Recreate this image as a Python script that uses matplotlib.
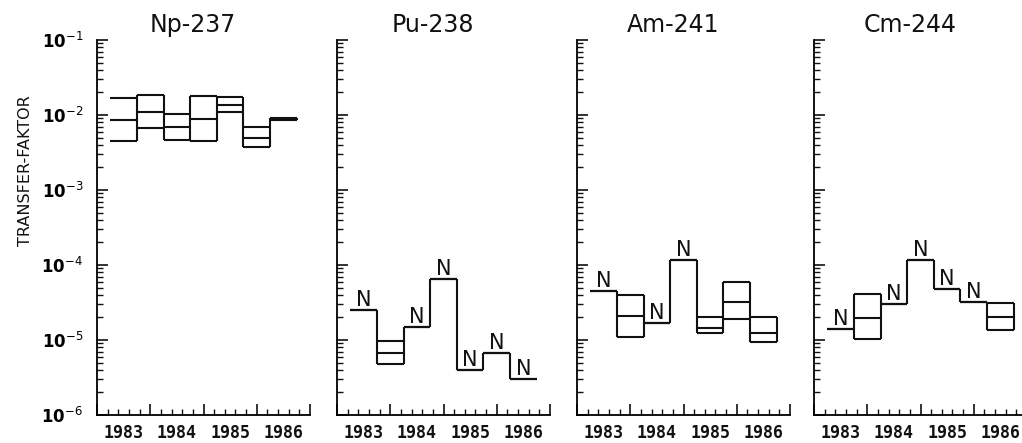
import numpy as np
import matplotlib.pyplot as plt
import matplotlib.transforms as mtransforms
from matplotlib.ticker import LogLocator, NullFormatter, MultipleLocator

plt.rcParams['font.family'] = 'DejaVu Sans'

# half-year sampling periods
edges = [1983.25, 1983.75, 1984.25, 1984.75, 1985.25, 1985.75, 1986.25, 1986.75]
years = ['1983', '1984', '1985', '1986']
nuclides = ['Np-237', 'Pu-238', 'Am-241', 'Cm-244']

# Np-237
np_lo = [4.5e-3, 6.8e-3, 4.6e-3, 4.5e-3, 1.11e-2, 3.8e-3, 8.6e-3]
np_mid = [8.6e-3, 1.09e-2, 7.0e-3, 8.8e-3, 1.36e-2, 5.0e-3, 8.8e-3]
np_hi = [1.67e-2, 1.85e-2, 1.03e-2, 1.79e-2, 1.72e-2, 7.0e-3, 9.1e-3]
np_n = [0, 0, 0, 0, 0, 0, 0]

# Pu-238
pu_lo = [2.5e-5, 4.8e-6, 1.48e-5, 6.5e-5, 4.0e-6, 6.8e-6, 3.0e-6]
pu_mid = [2.5e-5, 6.7e-6, 1.48e-5, 6.5e-5, 4.0e-6, 6.8e-6, 3.0e-6]
pu_hi = [2.5e-5, 9.7e-6, 1.48e-5, 6.5e-5, 4.0e-6, 6.8e-6, 3.0e-6]
pu_n = [1, 0, 1, 1, 1, 1, 1]

# Am-241
am_lo = [4.5e-5, 1.1e-5, 1.7e-5, 1.17e-4, 1.25e-5, 1.9e-5, 9.3e-6]
am_mid = [4.5e-5, 2.1e-5, 1.7e-5, 1.17e-4, 1.43e-5, 3.2e-5, 1.23e-5]
am_hi = [4.5e-5, 4.0e-5, 1.7e-5, 1.17e-4, 2.0e-5, 5.9e-5, 2.0e-5]
am_n = [1, 0, 1, 1, 0, 0, 0]

# Cm-244
cm_lo = [1.4e-5, 1.02e-5, 3.0e-5, 1.17e-4, 4.8e-5, 3.25e-5, 1.36e-5]
cm_mid = [1.4e-5, 1.98e-5, 3.0e-5, 1.17e-4, 4.8e-5, 3.25e-5, 2.05e-5]
cm_hi = [1.4e-5, 4.1e-5, 3.0e-5, 1.17e-4, 4.8e-5, 3.25e-5, 3.1e-5]
cm_n = [1, 0, 1, 1, 1, 1, 0]

series = [(np_lo, np_mid, np_hi, np_n), (pu_lo, pu_mid, pu_hi, pu_n),
          (am_lo, am_mid, am_hi, am_n), (cm_lo, cm_mid, cm_hi, cm_n)]

fig = plt.figure(figsize=(10.22, 4.43), dpi=100)
lefts = [97, 337, 577, 814]
col = '#111111'

for k, (name, (lo, mid, hi, nflag)) in enumerate(zip(nuclides, series)):
    ax = fig.add_axes([lefts[k] / 1022, 1 - 415 / 443, 213 / 1022, 375 / 443])
    ax.set_yscale('log')
    ax.set_ylim(1e-6, 1e-1)
    ax.set_xlim(1983, 1987)

    x0 = np.array(edges[:-1])
    x1 = np.array(edges[1:])
    for vals in (lo, mid, hi):
        ax.hlines(vals, x0, x1, color=col, lw=1.5)
    # vertical connectors between periods
    for i in range(1, len(lo)):
        ax.vlines(edges[i], min(lo[i - 1], lo[i]), max(hi[i - 1], hi[i]), color=col, lw=1.5)
    ax.vlines(edges[-1], lo[-1], hi[-1], color=col, lw=1.5)

    for i in range(len(lo)):
        if nflag[i]:
            ax.text((edges[i] + edges[i + 1]) / 2, hi[i], 'N', ha='center', va='bottom',
                    fontsize=15, color=col)

    ax.spines['top'].set_visible(False)
    ax.spines['right'].set_visible(False)
    ax.spines['left'].set_linewidth(1.3)
    ax.spines['bottom'].set_linewidth(1.3)

    ax.yaxis.set_major_locator(LogLocator(base=10, numticks=10))
    ax.yaxis.set_minor_locator(LogLocator(base=10, subs=np.arange(2, 10), numticks=10))
    ax.yaxis.set_minor_formatter(NullFormatter())
    ax.set_xticks([1983, 1984, 1985, 1986, 1987])
    ax.set_xticklabels([])
    ax.xaxis.set_minor_locator(MultipleLocator(0.2))
    ax.tick_params(which='major', direction='in', length=8, width=1.2, color=col)
    ax.tick_params(which='minor', direction='in', length=4.5, width=1.0, color=col)

    if k == 0:
        ax.set_yticks([1e-6, 1e-5, 1e-4, 1e-3, 1e-2, 1e-1])
        ax.set_yticklabels(['10$^{-6}$', '10$^{-5}$', '10$^{-4}$', '10$^{-3}$',
                            '10$^{-2}$', '10$^{-1}$'], fontsize=12, fontweight='bold')
        ax.tick_params(axis='y', which='major', pad=10)
    else:
        ax.set_yticklabels([])

    trans = mtransforms.blended_transform_factory(ax.transData, ax.transAxes)
    for j, yr in enumerate(years):
        ax.text(1983.5 + j, -0.025, yr, transform=trans, ha='center', va='top',
                fontsize=12, fontweight='bold', family='DejaVu Sans Mono', color=col)

    ax.set_title(name, x=0.45, pad=6, fontsize=17, color=col)

fig.text(26 / 1022, 1 - 171 / 443, 'TRANSFER-FAKTOR', rotation=90, ha='center', va='center',
         fontsize=11.5, color=col)

fig.savefig('out.png', dpi=100)
